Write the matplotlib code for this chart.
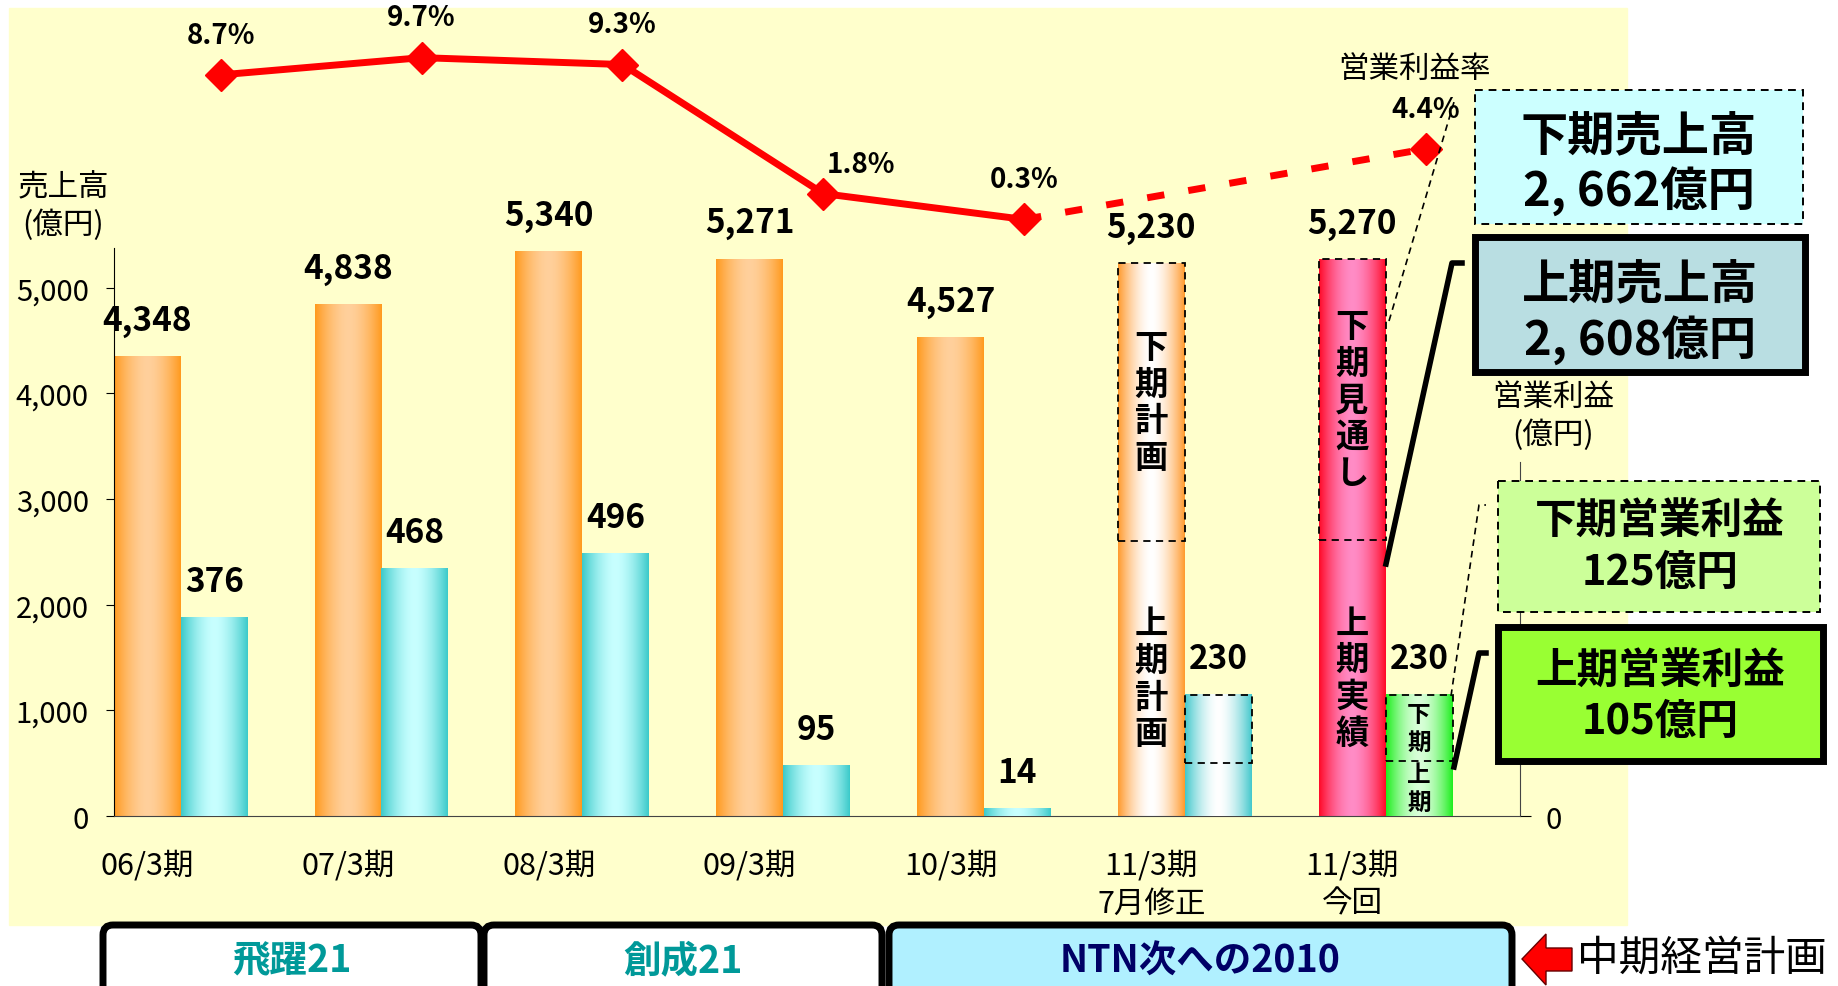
import numpy as np
import matplotlib
matplotlib.use("Agg")
import matplotlib.pyplot as plt
from matplotlib.patches import Rectangle, FancyBboxPatch, Polygon
from matplotlib.colors import to_rgb
from matplotlib.ticker import FuncFormatter

plt.rcParams['font.family'] = ['Noto Sans CJK JP', 'DejaVu Sans']

# ---- data ----
periods = ['06/3期', '07/3期', '08/3期', '09/3期', '10/3期', '11/3期\n7月修正', '11/3期\n今回']
sales = [4348, 4838, 5340, 5271, 4527, 5230, 5270]
profit = [376, 468, 496, 95, 14, 230, 230]
rate = [8.7, 9.7, 9.3, 1.8, 0.3, None, 4.4]
# first half values for the two 11/3 columns (7月修正, 今回)
sales_first = [2600, 2608]
profit_first = [100, 105]
sales_words = [('下期計画', '上期計画'), ('下期見通し', '上期実績')]
plans = ['飛躍21', '創成21', 'NTN次への2010']

sales_colors = [('#FF9A1E', '#FFD09C')] * 5 + [('#FF9A2E', '#FFFFFF'), ('#FF0A28', '#FF8CC6')]
profit_colors = [('#3CCACA', '#C8FFFF')] * 5 + [('#44C8CC', '#FFFFFF'), ('#1EEE1E', '#D8FFD8')]

W, H = 1838, 987
fig = plt.figure(figsize=(W / 100, H / 100), dpi=100)

# yellow background panel
fig.patches.append(Rectangle((9 / W, 1 - 926 / H), (1627 - 9) / W, (926 - 9) / H,
                             transform=fig.transFigure, color='#FFFFCC', zorder=-10))

ax = fig.add_axes([0.06186, 0.1722, 0.7653, 0.8158])
ax3 = ax.twinx()
ax2 = ax.twinx()
for a in (ax, ax2, ax3):
    a.set_facecolor('none')


def gradient(edge, mid, n=120):
    t = np.linspace(-1, 1, n)
    f = 1 - np.abs(t) ** 1.7
    e = np.array(to_rgb(edge))
    m = np.array(to_rgb(mid))
    return (e[None, :] + (m - e)[None, :] * f[:, None])[None, :, :]


def grad_bars(axis, xs, vals, width, colors):
    bars = axis.bar(xs, vals, width, align='edge', color='none', edgecolor='none')
    for b, (e, m) in zip(bars, colors):
        axis.imshow(gradient(e, m), extent=(b.get_x(), b.get_x() + b.get_width(), 0, b.get_height()),
                    aspect='auto', interpolation='bilinear', zorder=2)
    return bars


x = np.arange(len(periods))
w = 1 / 3
grad_bars(ax, x - w, sales, w, sales_colors)
grad_bars(ax3, x, profit, w, profit_colors)

num_font = dict(fontsize=24, fontweight='bold')
for xi, v in zip(x, sales):
    ax.annotate(f'{v:,}', (xi - w / 2, v), xytext=(0, 26), textcoords='offset points',
                ha='center', va='center', **num_font)
for xi, v in zip(x, profit):
    ax3.annotate(f'{v:,}', (xi + w / 2, v), xytext=(0, 26), textcoords='offset points',
                 ha='center', va='center', **num_font)

# split markers on the last two columns
for k, i in enumerate([5, 6]):
    ax.add_patch(Rectangle((x[i] - w, sales_first[k]), w, sales[i] - sales_first[k], fill=False,
                           ls=(0, (4, 3)), lw=1.3, ec='black', zorder=3))
    ax3.add_patch(Rectangle((x[i], profit_first[k]), w, profit[i] - profit_first[k], fill=False,
                            ls=(0, (4, 3)), lw=1.3, ec='black', zorder=3))


def vtext(axis, xc, yc, word, size, step):
    n = len(word)
    for k, ch in enumerate(word):
        axis.annotate(ch, (xc, yc), xytext=(0, ((n - 1) / 2 - k) * step), textcoords='offset points',
                      ha='center', va='center', fontsize=size, fontweight='bold', zorder=4)


for k, i in enumerate([5, 6]):
    upper, lower = sales_words[k]
    vtext(ax, x[i] - w / 2, (sales_first[k] + sales[i]) / 2, upper, 24, 26.5)
    vtext(ax, x[i] - w / 2, sales_first[k] / 2, lower, 24, 26.5)
vtext(ax3, x[6] + w / 2, (profit_first[1] + profit[6]) / 2, '下期', 17, 20)
vtext(ax3, x[6] + w / 2, profit_first[1] / 2, '上期', 17, 20)

# operating margin line
rx = [xi + 0.2 for xi, r in zip(x, rate) if r is not None]
ry = [r for r in rate if r is not None]
ax2.plot(rx[:5], ry[:5], color='#FF0000', lw=5, marker='D', ms=16, zorder=5)
ax2.plot(rx[4:], ry[4:], color='#FF0000', lw=5, ls=(0, (2.5, 3.5)), zorder=5)
ax2.plot(rx[5:], ry[5:], color='#FF0000', lw=0, marker='D', ms=16, zorder=5)
for i, (a, b) in enumerate(zip(rx, ry)):
    off = (27, 21) if i == 3 else (0, 29)
    ax2.annotate(f'{b}%', (a, b), xytext=off, textcoords='offset points',
                 ha='center', va='center', fontsize=20, fontweight='bold')
ax2.annotate('営業利益率', (rx[-1], ry[-1]), xytext=(-8, 58), textcoords='offset points',
             ha='center', va='center', fontsize=22)

# axes scales
ax.set_xlim(-w, 6.671)
ax.set_ylim(0, 7620)
ax3.set_ylim(0, 7620 / 5)
ax2.set_ylim(-34.37, 12.42)

ax.set_yticks([0, 1000, 2000, 3000, 4000, 5000])
ax.yaxis.set_major_formatter(FuncFormatter(lambda v, p: f'{v:,.0f}'))
ax.tick_params(axis='y', length=6, pad=12, labelsize=21)
ax.set_xticks(x - w / 2)
ax.set_xticklabels(periods, linespacing=1.3)
ax.tick_params(axis='x', length=0, pad=24, labelsize=22)
ax.spines['left'].set_bounds(0, 5380)
ax.spines['bottom'].set_color('#444444')
for s in ('top', 'right'):
    ax.spines[s].set_visible(False)
for s in ('top', 'left', 'bottom'):
    ax3.spines[s].set_visible(False)
ax3.spines['right'].set_bounds(0, 671)
ax3.spines['right'].set_color('#444444')
ax3.set_yticks([0])
ax3.tick_params(axis='y', length=8, pad=10, labelsize=21)
ax2.axis('off')

fig.text(63 / W, 1 - 188 / H, '売上高', ha='center', va='center', fontsize=22)
fig.text(63 / W, 1 - 225 / H, '(億円)', ha='center', va='center', fontsize=22)
fig.text(1553 / W, 1 - 397 / H, '営業利益', ha='center', va='center', fontsize=22)
fig.text(1553 / W, 1 - 435 / H, '(億円)', ha='center', va='center', fontsize=22)

# overlay in pixel coordinates for callouts
ov = fig.add_axes([0, 0, 1, 1])
ov.set_xlim(0, W)
ov.set_ylim(H, 0)
ov.axis('off')

callouts = [
    ((1475, 91, 1803, 225), '#CCFFFF', True, ['下期売上高', '2, 662億円'], (1639, 137, 191), 34),
    ((1475, 238, 1805, 373), '#B9DEE2', False, ['上期売上高', '2, 608億円'], (1640, 285, 340), 34),
    ((1498, 482, 1820, 613), '#CCFF99', True, ['下期営業利益', '125億円'], (1660, 521, 573), 30),
    ((1498, 628, 1823, 762), '#99FF33', False, ['上期営業利益', '105億円'], (1660, 671, 722), 30),
]
for (x0, y0, x1, y1), fc, dashed, txt, (tx, t1, t2), size in callouts:
    ov.add_patch(Rectangle((x0, y0), x1 - x0, y1 - y0, fc=fc, ec='black',
                           lw=1.4 if dashed else 5, ls=(0, (4, 3)) if dashed else '-'))
    ov.text(tx, t1, txt[0], ha='center', va='center', fontsize=size, fontweight='bold')
    ov.text(tx, t2, txt[1], ha='center', va='center', fontsize=size, fontweight='bold')

ov.plot([1389, 1454], [322, 103], color='black', lw=1.2, ls=(0, (4, 3)))
ov.plot([1386, 1452, 1462], [565, 264, 264], color='black', lw=4)
ov.plot([1451, 1479, 1486], [697, 506, 506], color='black', lw=1.2, ls=(0, (4, 3)))
ov.plot([1454, 1479, 1486], [768, 654, 654], color='black', lw=4)

# mid-term plan bar at the bottom
plan_boxes = [(103, 481, 'white', '#009999'), (484, 882, 'white', '#009999'), (889, 1512, '#B0F0FF', '#000066')]
for (x0, x1, fc, tc), name in zip(plan_boxes, plans):
    ov.add_patch(FancyBboxPatch((x0, 926), x1 - x0, 80, boxstyle='round,pad=0,rounding_size=10',
                                fc=fc, ec='black', lw=5))
    ov.text((x0 + x1) / 2, 961, name, ha='center', va='center', fontsize=27,
            fontweight='bold', color=tc, style='italic')
ov.add_patch(Polygon([(1522, 960), (1546, 935), (1546, 949), (1572, 949), (1572, 972),
                      (1546, 972), (1546, 986)], closed=True, fc='#FF0000', ec='#660000', lw=1))
ov.text(1702, 959, '中期経営計画', ha='center', va='center', fontsize=30, style='italic')

fig.savefig('out.png', dpi=100)
